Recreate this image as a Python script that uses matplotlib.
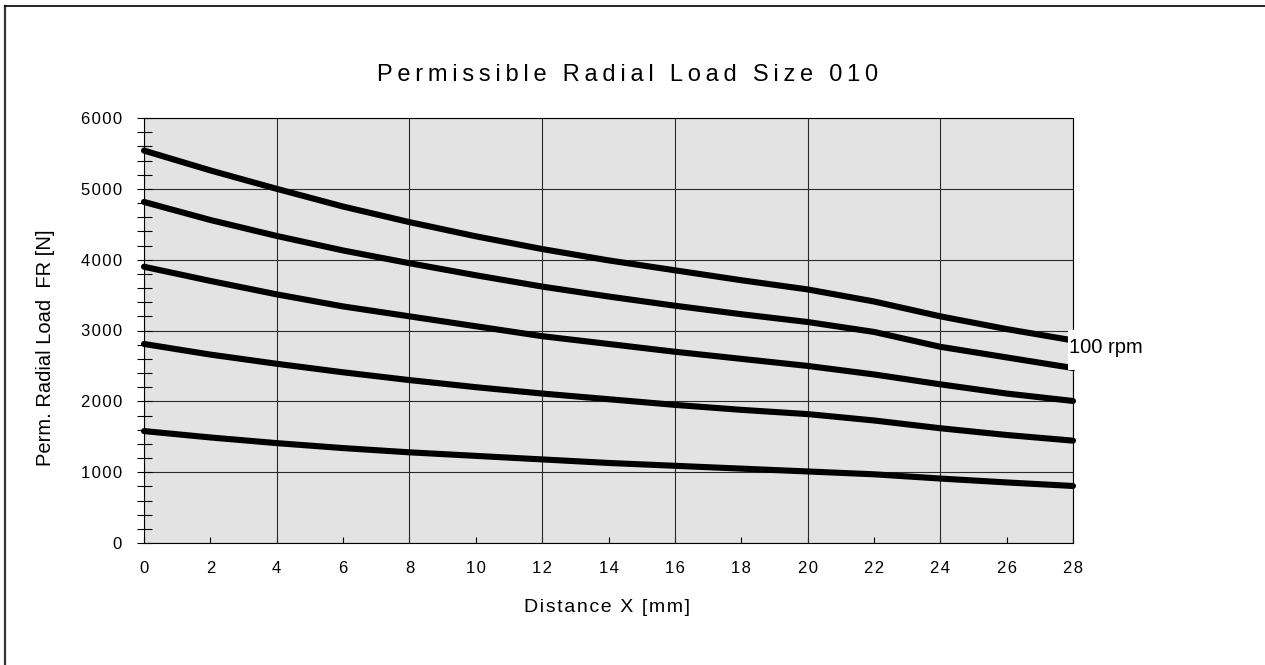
import matplotlib
matplotlib.use("Agg")
import matplotlib.pyplot as plt
from matplotlib.ticker import MultipleLocator, FuncFormatter
from matplotlib.lines import Line2D
from matplotlib.patches import Rectangle

# distancia x [mm] e cargas radiais [N]
distancia = [0, 2, 4, 6, 8, 10, 12, 14, 16, 18, 20, 22, 24, 26, 28]
carga_1 = [5540, 5260, 5000, 4750, 4530, 4330, 4150, 3990, 3850, 3710, 3580, 3410, 3200, 3020, 2860]
carga_2 = [4815, 4560, 4335, 4130, 3950, 3780, 3620, 3480, 3350, 3230, 3120, 2980, 2770, 2620, 2470]
carga_3 = [3900, 3700, 3510, 3340, 3200, 3060, 2920, 2810, 2700, 2600, 2500, 2380, 2240, 2110, 2005]
carga_4 = [2810, 2660, 2530, 2410, 2300, 2200, 2110, 2030, 1950, 1880, 1820, 1730, 1620, 1525, 1445]
carga_5 = [1580, 1490, 1410, 1340, 1280, 1230, 1180, 1130, 1090, 1050, 1010, 970, 910, 855, 805]
curvas = [carga_1, carga_2, carga_3, carga_4, carga_5]

rotulo = "100 rpm"
titulo = "Permissible Radial Load Size 010"
rotulo_x = "Distance X [mm]"
rotulo_y = "Perm. Radial Load  FR [N]"

plt.rcParams['font.family'] = ['Liberation Sans', 'DejaVu Sans']


def espacar(texto, sep="\u2009"):
    # imita o espacamento largo entre letras do original
    return sep.join(texto)


fmt = FuncFormatter(lambda v, pos: espacar(f"{v:.0f}", "\u200a"))

W, H = 1265, 665
fig = plt.figure(figsize=(W / 100, H / 100), dpi=100)
ax = fig.add_axes([144 / W, 1 - 543 / H, 929 / W, 425 / H])
ax.set_facecolor('#e3e3e3')

for c in curvas:
    ax.plot(distancia, c, color='black', lw=4.4, solid_capstyle='round', zorder=3, clip_on=False)

ax.set_xlim(0, 28)
ax.set_ylim(0, 6000)

ax.xaxis.set_major_locator(MultipleLocator(2))
ax.xaxis.set_minor_locator(MultipleLocator(4))
ax.xaxis.remove_overlapping_locs = False
ax.yaxis.set_major_locator(MultipleLocator(1000))
ax.yaxis.set_minor_locator(MultipleLocator(200))
ax.xaxis.set_major_formatter(fmt)
ax.yaxis.set_major_formatter(fmt)

ax.tick_params(axis='x', which='major', direction='in', length=4.3, width=0.8, pad=13.0, labelsize=12)
ax.tick_params(axis='x', which='minor', length=0)
ax.tick_params(axis='y', which='both', direction='inout', length=10.8, width=0.8)
ax.tick_params(axis='y', which='major', pad=10.4, labelsize=12)

ax.grid(True, axis='x', which='minor', color='#2a2a2a', lw=0.8)
ax.grid(True, axis='y', which='major', color='#2a2a2a', lw=0.8)
ax.set_axisbelow(True)

for s in ax.spines.values():
    s.set_linewidth(0.8)

# fundo branco do rotulo (cobre o fim das curvas e a borda)
ax.add_patch(Rectangle((924 / 929, 173 / 425), 73 / 929, 40 / 425, transform=ax.transAxes,
                       fc='white', ec='none', zorder=5, clip_on=False))
ax.text(27.87, 2760, rotulo, fontsize=14.5, ha='left', va='center', zorder=6, clip_on=False)

fig.text(628 / W, 1 - 75 / H, espacar(titulo), fontsize=17, ha='center', va='center')
fig.text(607 / W, 1 - 607 / H, espacar(rotulo_x, "\u200a"), fontsize=14, ha='center', va='center')
fig.text(46 / W, 1 - 348 / H, rotulo_y, fontsize=14.5, ha='center', va='center', rotation=90)

# moldura da figura (so esquerda e topo aparecem)
fig.add_artist(Line2D([5 / W, 5 / W], [0, 1 - 6 / H], color='#333333', lw=1.6))
fig.add_artist(Line2D([5 / W, 1], [1 - 6 / H, 1 - 6 / H], color='black', lw=1.2))

fig.savefig("out.png", dpi=100)
